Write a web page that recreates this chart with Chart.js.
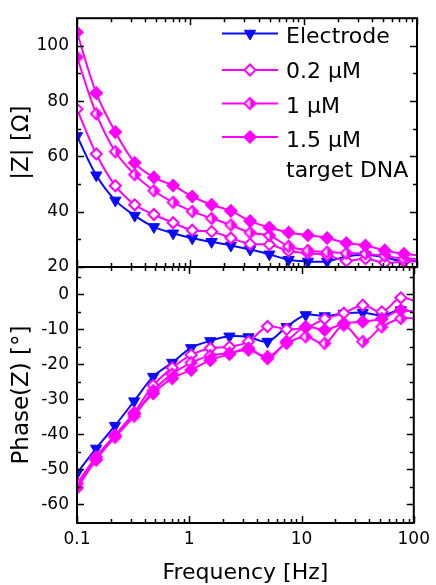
<!DOCTYPE html>
<html><head><meta charset="utf-8">
<script src="https://cdn.jsdelivr.net/npm/chart.js@4.4.1/dist/chart.umd.min.js"></script>
<style>
html,body{margin:0;padding:0;background:#fff;overflow:hidden}
body{width:436px;height:585px;position:relative}
canvas{position:absolute;left:0;top:0}
</style></head><body>
<canvas id="ctop" width="436" height="585"></canvas>
<canvas id="cbot" width="436" height="585"></canvas>
<script>
// ---------- data ----------
const freq = [0.1, 0.148, 0.218, 0.323, 0.477, 0.705, 1.04, 1.54, 2.28, 3.37, 4.98, 7.36, 10.9, 16.1, 23.8, 35.1, 51.9, 76.7, 113];
const seriesNames = ['Electrode', '0.2 \u03bcM', '1 \u03bcM', '1.5 \u03bcM'];
const legendNote = 'target DNA';

const zElectrode = [67.4, 53.2, 44.1, 38.6, 34.5, 32.2, 30.4, 29.1, 27.8, 26.3, 24.6, 22.6, 22.0, 22.0, 23.8, 24.3, 23.5, 22.0, 22.5];
const z02 = [77.1, 60.9, 49.4, 42.5, 39.0, 36.0, 33.3, 32.8, 30.5, 28.3, 28.1, 25.8, 25.0, 24.3, 22.2, 23.0, 21.5, 22.0, 22.0];
const z1 = [95.9, 75.4, 61.7, 53.4, 47.6, 43.4, 40.1, 37.6, 35.2, 32.4, 31.4, 27.5, 26.0, 25.4, 25.0, 24.8, 24.0, 23.0, 23.0];
const z15 = [104.9, 82.9, 68.8, 57.7, 52.4, 49.5, 45.5, 42.5, 40.3, 36.6, 34.3, 32.5, 31.5, 30.5, 28.7, 27.8, 26.0, 24.8, 24.0];

const phElectrode = [-51.1, -44.0, -37.5, -30.5, -23.5, -19.5, -15.3, -13.3, -12.0, -12.2, -13.5, -9.3, -5.9, -6.2, -5.5, -5.2, -6.0, -4.5, -5.5];
const ph02 = [-54.0, -46.4, -40.2, -33.8, -26.0, -21.0, -17.3, -15.4, -15.0, -13.5, -9.2, -10.0, -9.5, -7.0, -5.4, -3.1, -5.0, -1.0, -2.5];
const ph1 = [-55.0, -47.0, -40.8, -34.8, -27.5, -22.8, -19.5, -17.5, -16.8, -15.9, -17.8, -14.0, -12.1, -14.0, -8.8, -13.5, -9.3, -6.9, -7.0];
const ph15 = [-55.3, -47.3, -40.5, -34.2, -28.3, -24.0, -21.6, -18.8, -17.1, -15.4, -18.3, -13.5, -9.3, -10.2, -8.3, -7.8, -7.0, -4.5, -5.5];

const xTickValues = [0.1, 1, 10, 100];
const zTickValues = [20, 40, 60, 80, 100];
const zMinorValues = [30, 50, 70, 90];
const phTickValues = [-60, -50, -40, -30, -20, -10, 0];
const phMinorValues = [-55, -45, -35, -25, -15, -5, 5];

// ---------- styling ----------
const FONT = '"DejaVu Sans", "Liberation Sans", Arial, sans-serif';
const BLUE = '#0a0aff', MAG = '#ff00ff';
Chart.defaults.font.family = FONT;
Chart.defaults.color = '#000';

function halfDiamond(r, color, lw) {
  const c = document.createElement('canvas');
  const s = Math.ceil(2 * r + lw + 2);
  c.width = c.height = s;
  const g = c.getContext('2d'), m = s / 2;
  const path = () => { g.beginPath(); g.moveTo(m, m - r); g.lineTo(m + r, m); g.lineTo(m, m + r); g.lineTo(m - r, m); g.closePath(); };
  path(); g.fillStyle = '#fff'; g.fill();
  g.beginPath(); g.moveTo(m, m - r); g.lineTo(m + r, m); g.lineTo(m, m + r); g.closePath(); g.fillStyle = color; g.fill();
  path(); g.strokeStyle = color; g.lineWidth = lw; g.stroke();
  return c;
}
const halfImg = halfDiamond(5.5, MAG, 2);

const styles = [
  {color: BLUE, bg: BLUE, pointStyle: 'triangle', rotation: 180, radius: 6.5, pbw: 1},
  {color: MAG, bg: '#fff', pointStyle: 'rectRot', rotation: 0, radius: 5.5, pbw: 2},
  {color: MAG, bg: MAG, pointStyle: halfImg, rotation: 0, radius: 6, pbw: 2},
  {color: MAG, bg: MAG, pointStyle: 'rectRot', rotation: 0, radius: 6, pbw: 1.5},
];

function makeDatasets(arrays) {
  return arrays.map((arr, i) => ({
    label: seriesNames[i],
    data: freq.map((f, j) => ({x: f, y: arr[j]})),
    borderColor: styles[i].color,
    backgroundColor: styles[i].bg,
    pointStyle: styles[i].pointStyle,
    pointRotation: styles[i].rotation,
    pointRadius: styles[i].radius,
    pointBorderWidth: styles[i].pbw,
    pointBorderColor: styles[i].color,
    pointBackgroundColor: styles[i].bg,
    borderWidth: 2,
    tension: 0.35,
    order: 4 - i,
  }));
}

const framePlugin = {
  id: 'frame',
  afterDraw(chart, args, opts) {
    const {ctx, chartArea: a} = chart;
    const xs = chart.scales.x, ys = chart.scales.y;
    ctx.save();
    ctx.strokeStyle = '#000';
    ctx.lineWidth = 1.5;
    ctx.beginPath();
    const xt = [];
    [0.1, 1, 10].forEach(d => { for (let m = 1; m <= 9; m++) xt.push([d * m, m === 1]); });
    xt.push([100, true]);
    xt.forEach(([v, major]) => {
      const px = Math.round(xs.getPixelForValue(v)) + 0.5;
      const len = major ? 7 : 4;
      ctx.moveTo(px, a.top); ctx.lineTo(px, a.top + len);
      ctx.moveTo(px, a.bottom); ctx.lineTo(px, a.bottom - len);
    });
    const yt = opts.major.map(v => [v, true]).concat(opts.minor.map(v => [v, false]));
    yt.forEach(([v, major]) => {
      if (v < ys.min || v > ys.max) return;
      const py = Math.round(ys.getPixelForValue(v)) + 0.5;
      const len = major ? 7 : 4;
      ctx.moveTo(a.left, py); ctx.lineTo(a.left + len, py);
      ctx.moveTo(a.right, py); ctx.lineTo(a.right - len, py);
    });
    ctx.stroke();
    ctx.lineWidth = 2;
    ctx.strokeRect(a.left, a.top, a.right - a.left, a.bottom - a.top);
    ctx.restore();
  }
};

function drawMarker(ctx, st, x, y) {
  ctx.save();
  ctx.strokeStyle = st.color; ctx.fillStyle = st.bg; ctx.lineWidth = st.pbw;
  if (st.pointStyle instanceof HTMLCanvasElement) {
    ctx.drawImage(st.pointStyle, x - st.pointStyle.width / 2, y - st.pointStyle.height / 2);
  } else if (st.pointStyle === 'triangle') {
    const r = st.radius;
    ctx.beginPath();
    ctx.moveTo(x, y + r);
    ctx.lineTo(x - r * 0.866, y - r * 0.5);
    ctx.lineTo(x + r * 0.866, y - r * 0.5);
    ctx.closePath(); ctx.fill(); ctx.stroke();
  } else {
    const r = st.radius;
    ctx.beginPath();
    ctx.moveTo(x, y - r); ctx.lineTo(x + r, y); ctx.lineTo(x, y + r); ctx.lineTo(x - r, y);
    ctx.closePath(); ctx.fill(); ctx.stroke();
  }
  ctx.restore();
}

const legendPlugin = {
  id: 'legendBox',
  afterDraw(chart) {
    const ctx = chart.ctx;
    const markY = [33.5, 70, 103.5, 137];
    const textY = [42.7, 78.3, 112.7, 146.7, 176.7];
    ctx.save();
    ctx.font = '22px ' + FONT;
    ctx.fillStyle = '#000';
    ctx.textBaseline = 'alphabetic';
    ctx.textAlign = 'left';
    seriesNames.forEach((name, i) => {
      const st = styles[i];
      ctx.strokeStyle = st.color; ctx.lineWidth = 2;
      ctx.beginPath(); ctx.moveTo(222, markY[i]); ctx.lineTo(278, markY[i]); ctx.stroke();
      drawMarker(ctx, st, 250, markY[i]);
      ctx.fillText(name, 286, textY[i]);
    });
    ctx.fillText(legendNote, 286, textY[4]);
    ctx.restore();
  }
};

const tickFont = {size: 17, family: FONT};
const titleFont = {size: 22, family: FONT, lineHeight: 1};
const yTitleFont = {size: 23, family: FONT, lineHeight: 1};

new Chart(document.getElementById('ctop'), {
  type: 'line',
  data: {datasets: makeDatasets([zElectrode, z02, z1, z15])},
  options: {
    responsive: false, animation: false,
    layout: {padding: {left: 0, right: 19, top: 13, bottom: 318}},
    plugins: {legend: {display: false}, tooltip: {enabled: false}, frame: {major: zTickValues, minor: zMinorValues}},
    scales: {
      x: {type: 'logarithmic', min: 0.1, max: 100, display: false},
      y: {
        type: 'linear', min: 20, max: 110,
        grid: {display: false, drawTicks: false}, border: {display: false},
        ticks: {stepSize: 20, includeBounds: false, font: tickFont, padding: 8, color: '#000'},
        title: {display: true, text: '|Z| [\u03a9]', font: yTitleFont, padding: {top: 10.5, bottom: 0}, color: '#000'},
        afterFit(s) { s.width = 77; }
      }
    }
  },
  plugins: [framePlugin, legendPlugin]
});

new Chart(document.getElementById('cbot'), {
  type: 'line',
  data: {datasets: makeDatasets([phElectrode, ph02, ph1, ph15])},
  options: {
    responsive: false, animation: false,
    layout: {padding: {left: 0, right: 19, top: 267, bottom: 0}},
    plugins: {legend: {display: false}, tooltip: {enabled: false}, frame: {major: phTickValues, minor: phMinorValues}},
    scales: {
      x: {
        type: 'logarithmic', min: 0.1, max: 100,
        grid: {display: false, drawTicks: false}, border: {display: false},
        ticks: {font: tickFont, padding: 6, autoSkip: false, maxRotation: 0, color: '#000', callback: v => String(v)},
        afterBuildTicks(s) { s.ticks = xTickValues.map(v => ({value: v})); },
        title: {display: true, text: 'Frequency [Hz]', font: titleFont, padding: {top: 0, bottom: 1}, color: '#000'},
        afterFit(s) { s.height = 62; }
      },
      y: {
        type: 'linear', min: -65.3, max: 7.8,
        grid: {display: false, drawTicks: false}, border: {display: false},
        ticks: {stepSize: 10, includeBounds: false, font: tickFont, padding: 8, color: '#000'},
        title: {display: true, text: 'Phase(Z) [\u00b0]', font: yTitleFont, padding: {top: 10.5, bottom: 0}, color: '#000'},
        afterFit(s) { s.width = 77; }
      }
    }
  },
  plugins: [framePlugin]
});
</script>
</body></html>
